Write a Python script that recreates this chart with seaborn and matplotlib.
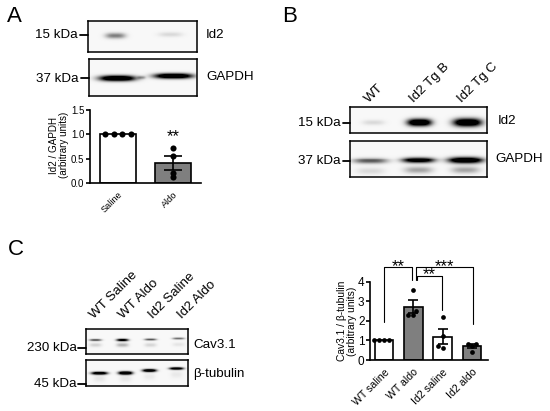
import numpy as np
import pandas as pd
import matplotlib
matplotlib.use("Agg")
import matplotlib.pyplot as plt
import seaborn as sns

sns.set_theme(style="white")
plt.rcParams['font.family'] = ['Liberation Sans', 'DejaVu Sans']
plt.rcParams['text.color'] = 'black'
plt.rcParams['xtick.color'] = 'black'
plt.rcParams['ytick.color'] = 'black'
plt.rcParams['axes.labelcolor'] = 'black'

W, H = 550, 411

# quantified data
a_groups = ["Saline", "Aldo"]
a_saline = [1, 1, 1, 1]
a_aldo = [0.72, 0.55, 0.20, 0.13]
a_means = [1.0, 0.41]
a_sems = [0.0, 0.14]
a_colors = ["white", "#7f7f7f"]
a_offsets = [[-0.24, -0.08, 0.08, 0.24], [0, 0, 0, 0]]

c_groups = ["WT saline", "WT aldo", "Id2 saline", "Id2 aldo"]
c_wt_saline = [1, 1, 1, 1]
c_wt_aldo = [3.6, 2.5, 2.3, 2.3]
c_id2_saline = [2.2, 1.25, 0.6, 0.7]
c_id2_aldo = [0.82, 0.82, 0.7, 0.4]
c_means = [1.0, 2.72, 1.19, 0.70]
c_sems = [0.0, 0.32, 0.37, 0.10]
c_colors = ["white", "#7f7f7f", "white", "#7f7f7f"]

# blot bands: centre x, centre y, half width, half height, darkness
bands_a_id2 = [(115, 35.7, 10, 2.8, .32), (170, 34.5, 12, 2.4, .08), (118, 53, 12, 1.5, .10)]
bands_a_gapdh = [(117, 78.3, 18, 2.8, 1.0), (173, 76, 19, 2.6, 1.0), (141, 77.5, 4, 1.6, .2)]
bands_b_id2 = [(373, 122.5, 11, 2.6, .08), (419, 122.5, 12, 3.6, 1.0), (467, 122.5, 14, 4.0, 1.0)]
bands_b_gapdh = [(370, 160.7, 17, 2.8, .42), (418, 160, 16, 2.8, .85), (465, 160, 17, 3.2, 1.0),
                 (418, 170, 14, 3.4, .22), (465, 170, 14, 3.4, .22), (370, 171, 14, 3.4, .08)]
bands_c_cav = [(95, 340, 6, 1.1, .45), (122, 340, 6, 1.3, .75), (150, 339.5, 6, 1.1, .42), (178, 338.5, 6, 1.1, .35),
               (95, 345, 6, 2.0, .10), (122, 345, 6, 2.0, .18), (150, 345, 6, 2.0, .09), (178, 344.5, 6, 2.0, .05)]
bands_c_tub = [(99, 372.7, 8, 1.5, .9), (125, 372.5, 7, 1.7, 1.0), (149, 370, 7, 1.5, .9), (176, 368, 7, 1.3, .85),
               (99, 378, 6, 3.5, .05), (125, 378, 6, 3.5, .05), (149, 376, 6, 3.5, .04), (176, 374, 6, 3.5, .04)]


def px_axes(x0, y0, x1, y1, **kw):
    return fig.add_axes([x0 / W, 1 - y1 / H, (x1 - x0) / W, (y1 - y0) / H], **kw)


def blot(x0, y0, x1, y1, bands, bg=0.03):
    ax = px_axes(x0, y0, x1, y1)
    xs = np.arange(x0, x1, 0.5)
    ys = np.arange(y0, y1, 0.5)
    X, Y = np.meshgrid(xs, ys)
    D = np.full(X.shape, bg)
    for cx, cy, hw, hh, d in bands:
        D = D + d * 1.5 * np.exp(-np.abs((X - cx) / hw) ** 3 - ((Y - cy) / hh) ** 2)
    D = np.clip(D, 0, 1)
    sns.heatmap(D, ax=ax, cmap="gray_r", vmin=0, vmax=1, cbar=False,
                xticklabels=False, yticklabels=False, rasterized=True)
    for s in ax.spines.values():
        s.set_visible(True)
        s.set_linewidth(1.1)
        s.set_color("black")
    return ax


def barpanel(rect, groups, series, means, sems, colors, width, xlim, ylim, yticks, ticklabels,
             tick_fs, x_fs, lw, capw, ms, offsets=None):
    ax = px_axes(*rect)
    ax.patch.set_alpha(0)
    df = pd.DataFrame({"g": groups, "m": means})
    sns.barplot(data=df, x="g", y="m", hue="g", order=groups, hue_order=groups, palette=colors,
                width=width, edgecolor="black", linewidth=lw, legend=False, ax=ax, errorbar=None, saturation=1)
    if offsets is None:
        long = pd.DataFrame({"g": np.repeat(groups, [len(s) for s in series]), "v": np.concatenate(series)})
        sns.swarmplot(data=long, x="g", y="v", order=groups, color="black", size=ms, ax=ax, zorder=5, clip_on=False)
    else:
        xpos = np.concatenate([i + np.asarray(o) for i, o in enumerate(offsets)])
        sns.scatterplot(x=xpos, y=np.concatenate(series), color="black", s=ms ** 2, linewidth=0,
                        ax=ax, zorder=5, clip_on=False)
    for i, (m, s) in enumerate(zip(means, sems)):
        if s > 0:
            ax.errorbar(i, m, yerr=s, color="black", lw=lw, capsize=capw, capthick=lw, zorder=6)
    ax.set_xlim(*xlim)
    ax.set_ylim(*ylim)
    ax.set_yticks(yticks)
    ax.set_yticklabels(ticklabels, fontsize=tick_fs)
    ax.set_xticks(range(len(groups)))
    ax.set_xticklabels(groups, rotation=45, ha="right", rotation_mode="anchor", fontsize=x_fs)
    ax.tick_params(axis="y", length=3, width=lw, pad=1, left=True)
    ax.tick_params(axis="x", length=0, pad=5)
    ax.set_xlabel("")
    ax.set_ylabel("")
    sns.despine(ax=ax)
    for s in ("left", "bottom"):
        ax.spines[s].set_linewidth(lw)
        ax.spines[s].set_color("black")
    return ax


fig = plt.figure(figsize=(W / 100, H / 100), dpi=100, facecolor="white")

blot(88, 21, 197, 52.5, bands_a_id2)
blot(89, 59, 197, 96, bands_a_gapdh)
blot(350, 107, 487, 133, bands_b_id2)
blot(350, 141, 487, 177, bands_b_gapdh)
blot(86, 329, 188, 354, bands_c_cav)
blot(86, 360, 188, 386, bands_c_tub)

ax_a = barpanel((90, 110, 201, 183), a_groups, [a_saline, a_aldo], a_means, a_sems, a_colors,
                0.65, (-0.509, 1.51), (0, 1.5), [0, 0.5, 1.0, 1.5], ["0.0", "0.5", "1.0", "1.5"],
                7, 6.6, 1.2, 6.8, 4.4, offsets=a_offsets)
ax_a.text(1, 0.96, "**", ha="center", va="center", fontsize=12)

ax_c = barpanel((370, 281.7, 488, 360), c_groups, [c_wt_saline, c_wt_aldo, c_id2_saline, c_id2_aldo],
                c_means, c_sems, c_colors, 0.63, (-0.478, 3.55), (0, 4), [0, 1, 2, 3, 4],
                ["0", "1", "2", "3", "4"], 8.5, 7.6, 1.2, 3.4, 3.4)
brackets = [([0, 0, 0.95, 0.95], [1.96, 4.73, 4.73, 4.08]),
            ([1.1, 1.1, 3.05, 3.05], [4.08, 4.73, 4.73, 1.84]),
            ([1.14, 1.14, 1.99, 1.99], [4.08, 4.3, 4.3, 2.55])]
for bx, by in brackets:
    ax_c.plot(bx, by, color="black", lw=0.8, clip_on=False)
for x, y, s in [(0.47, 4.78, "**"), (2.08, 4.78, "***"), (1.55, 4.35, "**")]:
    ax_c.text(x, y, s, ha="center", va="center", fontsize=12, clip_on=False)

# overlay for labels
ov = fig.add_axes([0, 0, 1, 1], facecolor="none")
ov.set_xlim(0, W)
ov.set_ylim(H, 0)
ov.axis("off")

for x, y, s in [(7, 17, "A"), (282, 16, "B"), (8, 249, "C")]:
    ov.text(x, y, s, fontsize=16, ha="left", va="center")

size = 9.6
labels_right = [(78, 35.5, "15 kDa"), (78, 78.5, "37 kDa"), (341, 123, "15 kDa"), (341, 161, "37 kDa"),
                (77, 348, "230 kDa"), (77, 384, "45 kDa")]
for x, y, s in labels_right:
    ov.text(x, y, s, fontsize=size, ha="right", va="center")
ticks = [(80, 88, 35.5), (81, 89, 78.5), (343, 350, 123), (343, 350, 161), (78, 86, 348), (78, 86, 384)]
for x0, x1, y in ticks:
    ov.plot([x0, x1], [y, y], color="black", lw=1.3)

labels_left = [(206, 35.5, "Id2"), (206, 77, "GAPDH"), (498, 121, "Id2"), (495, 159, "GAPDH"),
               (193, 345, "Cav3.1"), (193, 374, "β-tubulin")]
for x, y, s in labels_left:
    ov.text(x, y, s, fontsize=size, ha="left", va="center")

for x, y, s in [(371, 105, "WT"), (416, 105, "Id2 Tg B"), (464, 105, "Id2 Tg C"),
                (96, 321, "WT Saline"), (125, 321, "WT Aldo"), (155, 321, "Id2 Saline"), (184, 321, "Id2 Aldo")]:
    ov.text(x, y, s, fontsize=size, rotation=45, ha="left", va="bottom", rotation_mode="anchor")

ov.text(59, 145, "Id2 / GAPDH\n(arbitrary units)", fontsize=7.1, rotation=90, ha="center", va="center", linespacing=1.1)
ov.text(347, 321, "Cav3.1 / β-tubulin\n(arbitrary units)", fontsize=7.4, rotation=90, ha="center", va="center", linespacing=1.1)

fig.savefig("out.png", dpi=100)
